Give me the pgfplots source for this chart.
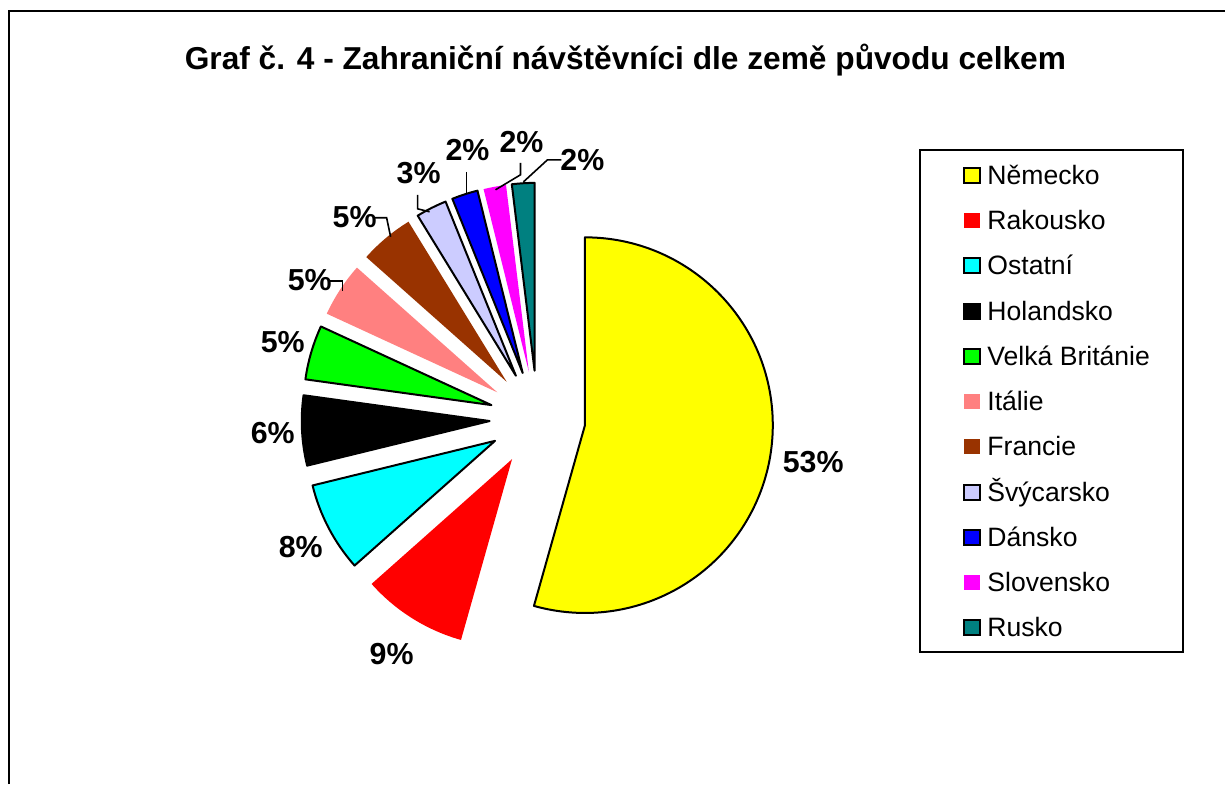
\documentclass[border=0pt]{standalone}
\usepackage{fontspec}
\setmainfont{Liberation Sans}
\usepackage{pgfplots}
\usepackage{pgfplotstable}
\pgfplotsset{compat=1.18}

\definecolor{cYellow}{HTML}{FFFF00}
\definecolor{cRed}{HTML}{FF0000}
\definecolor{cCyan}{HTML}{00FFFF}
\definecolor{cBlack}{HTML}{000000}
\definecolor{cGreen}{HTML}{00FF00}
\definecolor{cPink}{HTML}{FF8080}
\definecolor{cBrown}{HTML}{993300}
\definecolor{cLav}{HTML}{CCCCFF}
\definecolor{cBlue}{HTML}{0000FF}
\definecolor{cMag}{HTML}{FF00FF}
\definecolor{cTeal}{HTML}{008080}

% share of visitors; label position (lx,ly) in picture pixels
\pgfplotstableread[col sep=comma]{
name,val,fill,border,lx,ly
Německo,53.4,cYellow,1,814,462
Rakousko,8.9,cRed,0,392,654
Ostatní,7.6,cCyan,1,301,547
Holandsko,5.9,cBlack,1,273,433
Velká Británie,4.6,cGreen,1,283,342
Itálie,4.6,cPink,0,310,280
Francie,4.6,cBrown,0,355,217
Švýcarsko,2.6,cLav,1,419,173
Dánsko,2.2,cBlue,1,468,150
Slovensko,1.9,cMag,0,522,142
Rusko,1.9,cTeal,1,583,160
}\piedata

\newcommand\labelfont{\fontsize{15.2}{18}\selectfont\bfseries}
\newcommand\legfont{\fontsize{13.3}{15}\selectfont}

\begin{document}
\begin{tikzpicture}
\begin{axis}[
    x=0.5pt, y=0.5pt,
    xmin=0, xmax=1226, ymin=-785, ymax=0,
    hide axis, clip=false
]
\pgfplotsextra{
  \path (axis cs:0,0) rectangle (axis cs:1226,-785);
  % outer frame (only top and left edges are visible)
  \draw[line width=1.2pt] (axis cs:9,-785) -- (axis cs:9,-11) -- (axis cs:1226,-11);
  % title
  \node[anchor=base, font=\fontsize{15.85}{19}\selectfont\bfseries]
    at (axis cs:626,-69.5) {Graf č. 4 - Zahraniční návštěvníci dle země původu celkem};
  \pgfplotstablegetrowsof{\piedata}
  \pgfmathtruncatemacro\lastrow{\pgfplotsretval-1}
  \gdef\total{0}
  \foreach \i in {0,...,\lastrow}{
    \pgfplotstablegetelem{\i}{val}\of\piedata
    \pgfmathsetmacro\t{\total+\pgfplotsretval}
    \xdef\total{\t}
  }
  \gdef\angA{90}
  \foreach \i in {0,...,\lastrow}{
    \pgfplotstablegetelem{\i}{val}\of\piedata \let\v\pgfplotsretval
    \pgfplotstablegetelem{\i}{fill}\of\piedata \let\fc\pgfplotsretval
    \pgfplotstablegetelem{\i}{border}\of\piedata \let\bd\pgfplotsretval
    \pgfplotstablegetelem{\i}{lx}\of\piedata \let\lx\pgfplotsretval
    \pgfplotstablegetelem{\i}{ly}\of\piedata \let\ly\pgfplotsretval
    \pgfplotstablegetelem{\i}{name}\of\piedata \let\nm\pgfplotsretval
    \pgfmathsetmacro\frac{\v/\total}
    \pgfmathsetmacro\angB{\angA-360*\frac}
    \pgfmathsetmacro\mid{(\angA+\angB)/2}
    \pgfmathsetmacro\px{538+48*cos(\mid)}
    \pgfmathsetmacro\py{-419+48*sin(\mid)}
    \pgfmathsetmacro\yc{-(175.5+45.3*\i)}
    \pgfmathsetmacro\ya{\yc-7.5}
    \pgfmathsetmacro\yb{\yc+7.5}
    \pgfmathsetmacro\yt{\yc-9}
    \pgfmathsetmacro\yl{-\ly-10.9}
    \ifnum\bd=1
      \filldraw[fill=\fc, draw=black, line width=1pt, line join=round]
        (axis cs:\px,\py) -- ++(\angA:94pt) arc[start angle=\angA, end angle=\angB, radius=94pt] -- cycle;
      \filldraw[fill=\fc, draw=black, line width=1pt]
        (axis cs:965,\ya) rectangle (axis cs:981,\yb);
    \else
      \fill[fill=\fc]
        (axis cs:\px,\py) -- ++(\angA:94pt) arc[start angle=\angA, end angle=\angB, radius=94pt] -- cycle;
      \fill[fill=\fc] (axis cs:965,\ya) rectangle (axis cs:981,\yb);
    \fi
    \node[anchor=base west, font=\legfont, inner sep=0pt] at (axis cs:988,\yt) {\nm};
    \pgfmathtruncatemacro\pct{round(\v)}
    \node[anchor=base, font=\labelfont, inner sep=0pt] at (axis cs:\lx,\yl) {\pct\%};
    \xdef\angA{\angB}
  }
  % legend box
  \draw[line width=1pt] (axis cs:921,-150) rectangle (axis cs:1184,-653);
  % leader lines of the moved labels
  \draw[line width=0.8pt] (axis cs:330,-281) -- (axis cs:343,-281) -- (axis cs:343,-291);
  \draw[line width=0.8pt] (axis cs:374,-218) -- (axis cs:387,-218) -- (axis cs:391,-237);
  \draw[line width=0.8pt] (axis cs:418,-195) -- (axis cs:418,-209) -- (axis cs:430,-212);
  \draw[line width=0.8pt] (axis cs:467,-172) -- (axis cs:467,-194);
  \draw[line width=0.8pt] (axis cs:521,-163) -- (axis cs:521,-175) -- (axis cs:496,-190);
  \draw[line width=0.8pt] (axis cs:562,-160) -- (axis cs:548,-160) -- (axis cs:524,-182);
}
\end{axis}
\end{tikzpicture}
\end{document}
